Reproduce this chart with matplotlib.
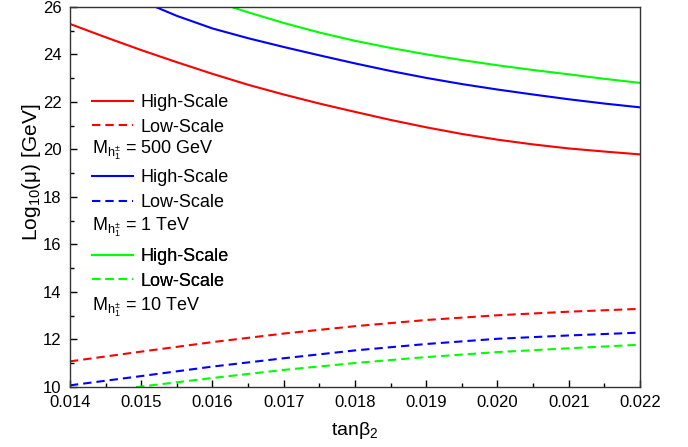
import matplotlib
matplotlib.use("Agg")
import matplotlib.pyplot as plt
from matplotlib.lines import Line2D
from matplotlib.ticker import MultipleLocator, FormatStrFormatter

plt.rcParams['font.family'] = ['Liberation Sans', 'DejaVu Sans']
plt.rcParams['mathtext.fontset'] = 'custom'
plt.rcParams['mathtext.rm'] = 'Liberation Sans'
plt.rcParams['mathtext.it'] = 'Liberation Sans:italic'

# data
tan_fine = [0.0140, 0.0145, 0.0150, 0.0155, 0.0160, 0.0165, 0.0170, 0.0175, 0.0180,
            0.0185, 0.0190, 0.0195, 0.0200, 0.0205, 0.0210, 0.0215, 0.0220]
high_500 = [25.28, 24.72, 24.18, 23.67, 23.18, 22.72, 22.31, 21.93, 21.58,
            21.24, 20.93, 20.65, 20.41, 20.21, 20.04, 19.91, 19.79]
high_1t = [27.40, 26.80, 26.25, 25.62, 25.09, 24.68, 24.31, 23.96, 23.62,
           23.30, 23.01, 22.75, 22.52, 22.31, 22.11, 21.93, 21.77]
high_10t = [28.60, 28.00, 27.40, 26.80, 26.25, 25.77, 25.32, 24.92, 24.57,
            24.27, 24.00, 23.76, 23.54, 23.34, 23.16, 22.97, 22.80]

tan_coarse = [0.014, 0.015, 0.016, 0.017, 0.018, 0.019, 0.020, 0.021, 0.022]
low_500 = [11.08, 11.49, 11.89, 12.25, 12.56, 12.82, 13.02, 13.17, 13.29]
low_1t = [10.07, 10.46, 10.86, 11.21, 11.54, 11.81, 12.03, 12.17, 12.29]
low_10t = [9.62, 10.02, 10.38, 10.72, 11.01, 11.26, 11.47, 11.63, 11.78]

colors = ['#ff0000', '#0000ff', '#00ff00']
mass_labels = [r'$\mathregular{M_{h_1^{\pm}}}$ = 500 GeV',
               r'$\mathregular{M_{h_1^{\pm}}}$ = 1 TeV',
               r'$\mathregular{M_{h_1^{\pm}}}$ = 10 TeV']

fig = plt.figure(figsize=(6.88, 4.47), dpi=100)
ax = fig.add_axes([0.1017, 0.1342, 0.8285, 0.8505])

dash = (0, (4, 2.4))
lw = 1.5
for hi, lo, c in zip([high_500, high_1t, high_10t], [low_500, low_1t, low_10t], colors):
    ax.plot(tan_fine, hi, color=c, lw=lw)
    ax.plot(tan_coarse, lo, color=c, lw=lw, linestyle=dash)

ax.set_xlim(0.014, 0.022)
ax.set_ylim(10, 26)
ax.xaxis.set_major_locator(MultipleLocator(0.001))
ax.xaxis.set_minor_locator(MultipleLocator(0.0005))
ax.yaxis.set_major_locator(MultipleLocator(2))
ax.yaxis.set_minor_locator(MultipleLocator(1))
ax.xaxis.set_major_formatter(FormatStrFormatter('%.3f'))
ax.tick_params(which='both', direction='in', top=False, right=False, labelsize=12)
ax.tick_params(which='major', length=5, width=1, pad=6)
ax.tick_params(which='minor', length=3, width=1)
for s in ax.spines.values():
    s.set_linewidth(1)
    s.set_color('#333333')

ax.set_xlabel(r'tan$\mathregular{\beta_2}$', fontsize=14)
ax.set_ylabel(r'Log$_{\mathregular{10}}$($\mathregular{\mu}$) [GeV]', fontsize=15)
ax.xaxis.set_label_coords(0.5, -0.088)
ax.yaxis.set_label_coords(-0.047, 0.564)

# legend groups, one per charged Higgs mass
legend_y = [0.7157, 0.518, 0.3105]
text_y = [0.613, 0.413, 0.2025]
for c, ly, ty, ml in zip(colors, legend_y, text_y, mass_labels):
    handles = [Line2D([], [], color=c, lw=lw),
               Line2D([], [], color=c, lw=lw, linestyle=dash)]
    leg = ax.legend(handles, ['High-Scale', 'Low-Scale'], loc='center left',
                    bbox_to_anchor=(0.0386, ly), frameon=False, fontsize=13,
                    borderpad=0, borderaxespad=0, handlelength=2.3,
                    handletextpad=0.4, labelspacing=0.42)
    ax.add_artist(leg)
    ax.text(0.0386, ty, ml, transform=ax.transAxes, fontsize=13,
            va='baseline', ha='left')

fig.savefig('out.png', dpi=100)
